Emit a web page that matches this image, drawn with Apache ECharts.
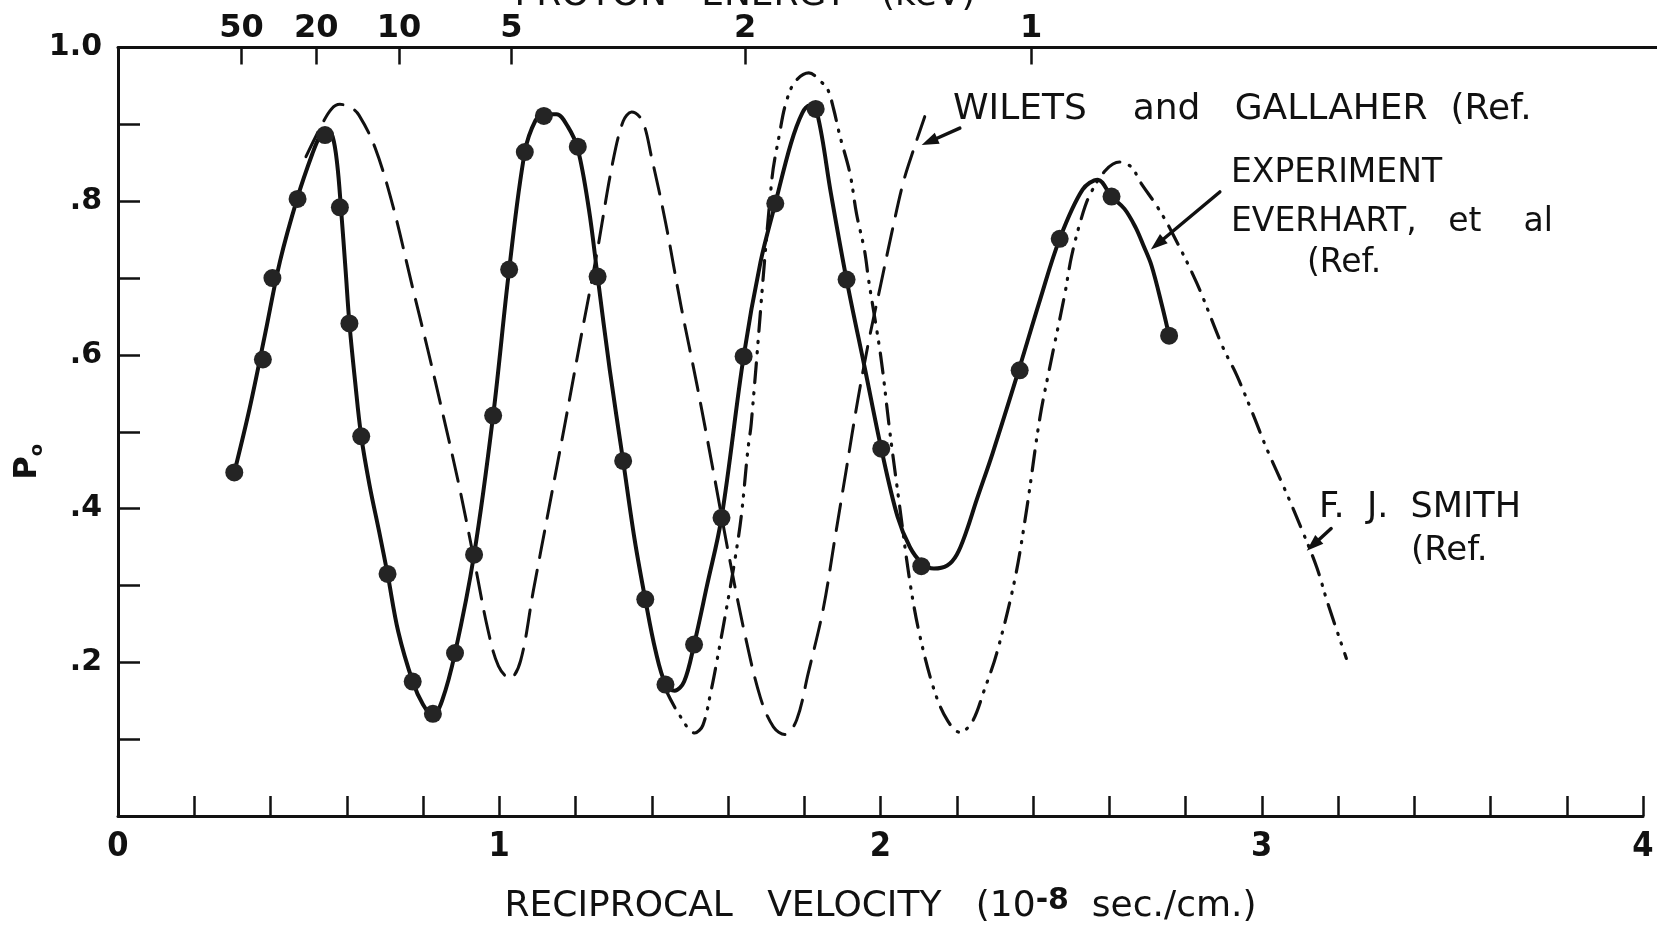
<!DOCTYPE html>
<html>
<head>
<meta charset="utf-8">
<title>Electron-capture probability P0 versus reciprocal velocity</title>
<script src="https://cdn.jsdelivr.net/npm/echarts@6/dist/echarts.min.js"></script>
<style>
  html, body { margin: 0; padding: 0; background: #ffffff; }
  #chart { width: 1657px; height: 930px; }
</style>
</head>
<body>
<div id="chart"></div>
<script>
// ---- data: reciprocal velocity (10^-8 sec/cm) against probability P0 ----

// Measured points (Everhart et al)
const experimentPoints = [
  [0.305, 0.447], [0.380, 0.594], [0.405, 0.700], [0.471, 0.803], [0.543, 0.886],
  [0.582, 0.792], [0.607, 0.641], [0.638, 0.494], [0.707, 0.315], [0.773, 0.175],
  [0.826, 0.133], [0.884, 0.212], [0.934, 0.340], [0.984, 0.521], [1.026, 0.711],
  [1.067, 0.864], [1.117, 0.911], [1.206, 0.871], [1.258, 0.702], [1.325, 0.462],
  [1.383, 0.282], [1.436, 0.171], [1.511, 0.223], [1.583, 0.388], [1.641, 0.598],
  [1.724, 0.797], [1.830, 0.920], [1.911, 0.698], [2.002, 0.478], [2.107, 0.325],
  [2.365, 0.580], [2.470, 0.751], [2.606, 0.806], [2.757, 0.625]
];

// Smooth curve drawn through the measurements
const experimentCurve = [
  [0.305, 0.447], [0.345, 0.530], [0.385, 0.625], [0.425, 0.722], [0.471, 0.805],
  [0.510, 0.862], [0.530, 0.885], [0.548, 0.894], [0.563, 0.884], [0.575, 0.848],
  [0.585, 0.790], [0.597, 0.710], [0.607, 0.641], [0.622, 0.565], [0.638, 0.494],
  [0.660, 0.430], [0.685, 0.370], [0.707, 0.315], [0.735, 0.240], [0.773, 0.175],
  [0.800, 0.145], [0.826, 0.130], [0.850, 0.150], [0.884, 0.212], [0.934, 0.340],
  [0.984, 0.521], [1.026, 0.711], [1.067, 0.864], [1.095, 0.905], [1.117, 0.913],
  [1.150, 0.913], [1.180, 0.897], [1.206, 0.868], [1.235, 0.790], [1.258, 0.702],
  [1.290, 0.580], [1.325, 0.462], [1.355, 0.360], [1.383, 0.282], [1.410, 0.215],
  [1.436, 0.172], [1.460, 0.163], [1.485, 0.175], [1.511, 0.223], [1.545, 0.300],
  [1.583, 0.388], [1.641, 0.598], [1.685, 0.720], [1.724, 0.797], [1.765, 0.875],
  [1.795, 0.915], [1.815, 0.925], [1.835, 0.912], [1.870, 0.810], [1.911, 0.698],
  [1.960, 0.580], [2.002, 0.478], [2.045, 0.389], [2.077, 0.350], [2.107, 0.330],
  [2.140, 0.322], [2.175, 0.326], [2.200, 0.340], [2.225, 0.370], [2.252, 0.411],
  [2.294, 0.472], [2.365, 0.584], [2.418, 0.671], [2.470, 0.751], [2.530, 0.815],
  [2.570, 0.828], [2.606, 0.806], [2.640, 0.790], [2.669, 0.766], [2.690, 0.742],
  [2.711, 0.716], [2.739, 0.663], [2.757, 0.625]
];

// Theory: Wilets and Gallaher
const wiletsGallaher = [
  [0.493, 0.858], [0.535, 0.900], [0.560, 0.920], [0.582, 0.926], [0.610, 0.922],
  [0.632, 0.912], [0.674, 0.870], [0.721, 0.794], [0.771, 0.691], [0.812, 0.608],
  [0.854, 0.519], [0.895, 0.429], [0.937, 0.326], [0.970, 0.243], [0.998, 0.195],
  [1.028, 0.179], [1.056, 0.202], [1.089, 0.292], [1.131, 0.402], [1.173, 0.512],
  [1.214, 0.622], [1.256, 0.732], [1.297, 0.849], [1.325, 0.904], [1.347, 0.916],
  [1.375, 0.905], [1.400, 0.856], [1.436, 0.773], [1.477, 0.663], [1.519, 0.560],
  [1.561, 0.450], [1.602, 0.340], [1.644, 0.237], [1.685, 0.154], [1.719, 0.116],
  [1.749, 0.106], [1.780, 0.125], [1.810, 0.185], [1.850, 0.270], [1.880, 0.360],
  [1.910, 0.450], [1.940, 0.540], [1.970, 0.620], [2.000, 0.690], [2.030, 0.760],
  [2.060, 0.825], [2.090, 0.872], [2.116, 0.910]
];

// Theory: F. J. Smith
const smith = [
  [1.437, 0.164], [1.473, 0.131], [1.513, 0.108], [1.534, 0.118], [1.556, 0.164],
  [1.571, 0.202], [1.600, 0.281], [1.618, 0.333], [1.635, 0.391], [1.652, 0.476],
  [1.661, 0.511], [1.715, 0.828], [1.736, 0.890], [1.751, 0.926], [1.775, 0.955],
  [1.812, 0.967], [1.845, 0.955], [1.862, 0.945], [1.877, 0.920], [1.893, 0.886],
  [1.920, 0.836], [1.937, 0.784], [1.958, 0.736], [1.969, 0.697], [2.001, 0.597],
  [2.024, 0.502], [2.050, 0.404], [2.077, 0.305], [2.103, 0.235], [2.142, 0.162],
  [2.176, 0.124], [2.208, 0.109], [2.240, 0.122], [2.273, 0.165], [2.305, 0.212],
  [2.352, 0.307], [2.383, 0.398], [2.418, 0.518], [2.444, 0.584], [2.483, 0.678],
  [2.501, 0.728], [2.527, 0.778], [2.549, 0.808], [2.590, 0.840], [2.627, 0.851],
  [2.659, 0.844], [2.680, 0.826], [2.727, 0.792], [2.764, 0.760], [2.830, 0.693],
  [2.898, 0.610], [2.934, 0.574], [2.976, 0.524], [3.013, 0.478], [3.065, 0.420],
  [3.104, 0.374], [3.144, 0.324], [3.173, 0.277], [3.222, 0.205]
];

// Proton-energy scale along the top edge (keV) and where each value falls in reciprocal velocity
const energyLabels = ['50', '20', '10', '5', '2', '1'];
const energyTickPositions = [0.324, 0.520, 0.737, 1.032, 1.645, 2.395];

// Tick labels of the two main axes
const xTickLabels = ['0', '1', '2', '3', '4'];
const yTickLabels = ['', '', '.2', '', '.4', '', '.6', '', '.8', '', '1.0'];

// ---- styling ----
const INK = '#111111';
const FONT = "'DejaVu Sans', 'Noto Sans', sans-serif";
const NARROW = "'Liberation Sans Narrow', 'DejaVu Sans Condensed', 'DejaVu Sans', sans-serif";

const chart = echarts.init(document.getElementById('chart'), null, { renderer: 'canvas' });

const option = {
  backgroundColor: '#ffffff',
  animation: false,
  grid: {
    left: 118, right: 14, top: 47.5, bottom: 114,
    containLabel: false,
    outerBoundsMode: 'none'
  },
  xAxis: [
    {
      type: 'value', position: 'bottom', min: 0, max: 4, interval: 0.2,
      axisLine: { show: true, onZero: false, lineStyle: { color: INK, width: 3 } },
      axisTick: { show: true, inside: true, length: 20, lineStyle: { color: INK, width: 2.5 } },
      splitLine: { show: false },
      axisLabel: {
        margin: 14, color: INK, fontSize: 34, fontFamily: NARROW, fontWeight: 'bold',
        formatter: function (v) {
          const r = Math.round(v * 5);
          return (r % 5 === 0) ? xTickLabels[r / 5] : '';
        }
      },
      name: '{t|RECIPROCAL   VELOCITY   (10}{sup|-8}{t|  sec./cm.)}',
      nameLocation: 'middle',
      nameGap: 70,
      nameTextStyle: {
        color: INK,
        rich: {
          t: { fontSize: 36, fontFamily: FONT, color: INK, lineHeight: 42 },
          sup: { fontSize: 30, fontFamily: FONT, fontWeight: 'bold', color: INK, lineHeight: 26, verticalAlign: 'top' }
        }
      }
    },
    {
      type: 'value', position: 'top', min: 0, max: 4,
      axisLine: { show: true, onZero: false, lineStyle: { color: INK, width: 3 } },
      axisTick: {
        show: true, inside: true, length: 17,
        customValues: energyTickPositions,
        lineStyle: { color: INK, width: 2.5 }
      },
      splitLine: { show: false },
      axisLabel: {
        margin: 3, color: INK, fontSize: 32, fontFamily: FONT, fontWeight: 'bold',
        customValues: energyTickPositions,
        formatter: function (v) {
          const i = energyTickPositions.findIndex(p => Math.abs(p - v) < 1e-6);
          return i >= 0 ? energyLabels[i] : '';
        }
      }
    }
  ],
  yAxis: {
    type: 'value', min: 0, max: 1, interval: 0.1,
    axisLine: { show: true, onZero: false, lineStyle: { color: INK, width: 3 } },
    axisTick: { show: true, inside: true, length: 22, lineStyle: { color: INK, width: 2.5 } },
    splitLine: { show: false },
    axisLabel: {
      margin: 16, color: INK, fontSize: 30, fontFamily: FONT, fontWeight: 'bold',
      formatter: function (v) { return yTickLabels[Math.round(v * 10)] || ''; }
    },
    name: '{p|P}{s|o}',
    nameLocation: 'middle',
    nameRotate: 90,
    nameGap: 72,
    nameMoveOverlap: false,
    nameTextStyle: {
      padding: [0, 60, 0, 0],
      rich: {
        p: { fontSize: 32, fontFamily: FONT, fontWeight: 'bold', color: INK, lineHeight: 36 },
        s: { fontSize: 18, fontFamily: FONT, fontWeight: 'bold', color: INK, lineHeight: 22, verticalAlign: 'bottom' }
      }
    }
  },
  series: [
    {
      name: 'Wilets and Gallaher', type: 'line', data: wiletsGallaher,
      xAxisIndex: 0, yAxisIndex: 0, smooth: 0.35, symbol: 'none', silent: true, z: 2,
      lineStyle: { color: INK, width: 3, type: [27, 13], cap: 'round', join: 'round' }
    },
    {
      name: 'F. J. Smith', type: 'line', data: smith,
      xAxisIndex: 0, yAxisIndex: 0, smooth: 0.35, symbol: 'none', silent: true, z: 2,
      lineStyle: { color: INK, width: 3.2, type: [20, 10, 1.2, 9, 1.2, 10], cap: 'round', join: 'round' }
    },
    {
      name: 'Experiment', type: 'line', data: experimentCurve,
      xAxisIndex: 0, yAxisIndex: 0, smooth: 0.35, symbol: 'none', silent: true, z: 3,
      lineStyle: { color: INK, width: 4, cap: 'round', join: 'round' }
    },
    {
      name: 'Everhart et al', type: 'scatter', data: experimentPoints,
      xAxisIndex: 0, yAxisIndex: 0, symbol: 'circle', symbolSize: 18, silent: true, z: 4,
      itemStyle: { color: '#242424', opacity: 1 }
    }
  ]
};

chart.setOption(option);

// ---- labels with leader arrows, placed after the axes exist ----
const toPx = p => chart.convertToPixel({ seriesIndex: 0 }, p);

function arrowGraphics(from, to) {
  const a = toPx(from), b = toPx(to);
  const dx = b[0] - a[0], dy = b[1] - a[1];
  const len = Math.hypot(dx, dy), ux = dx / len, uy = dy / len;
  const head = 17, half = 6;
  const base = [b[0] - ux * head, b[1] - uy * head];
  return [
    { type: 'line', silent: true, shape: { x1: a[0], y1: a[1], x2: base[0] + ux * 2, y2: base[1] + uy * 2 },
      style: { stroke: INK, lineWidth: 3.5, lineCap: 'round' } },
    { type: 'polygon', silent: true,
      shape: { points: [b, [base[0] - uy * half, base[1] + ux * half], [base[0] + uy * half, base[1] - ux * half]] },
      style: { fill: INK } }
  ];
}

function label(text, x, y, size) {
  return {
    type: 'text', silent: true, x: x, y: y,
    style: { text: text, fontSize: size || 34, fontFamily: FONT, fill: INK, align: 'left', verticalAlign: 'middle' }
  };
}

const topRight = toPx([4, 1]);
const graphics = [
  // upper frame line runs on past the last reciprocal-velocity tick
  { type: 'line', silent: true, shape: { x1: topRight[0], y1: topRight[1], x2: 1657, y2: topRight[1] },
    style: { stroke: INK, lineWidth: 3 } },
  // title of the proton-energy scale
  { type: 'text', silent: true, x: 745, y: -4,
    style: { text: 'PROTON   ENERGY   (keV)', fontSize: 36, fontFamily: FONT, fill: INK, align: 'center', verticalAlign: 'middle' } },
  label('WILETS    and   GALLAHER  (Ref.', 953, 110, 36),
  label('EXPERIMENT', 1231, 173, 33),
  label('EVERHART,   et    al', 1231, 222, 33),
  label('(Ref.', 1307, 263, 33),
  label('F.  J.  SMITH', 1319, 508, 35),
  label('(Ref.', 1411, 551, 34)
]
  .concat(arrowGraphics([2.208, 0.895], [2.108, 0.873]))
  .concat(arrowGraphics([2.890, 0.812], [2.709, 0.737]))
  .concat(arrowGraphics([3.182, 0.374], [3.118, 0.345]));

chart.setOption({ graphic: graphics });
</script>
</body>
</html>
